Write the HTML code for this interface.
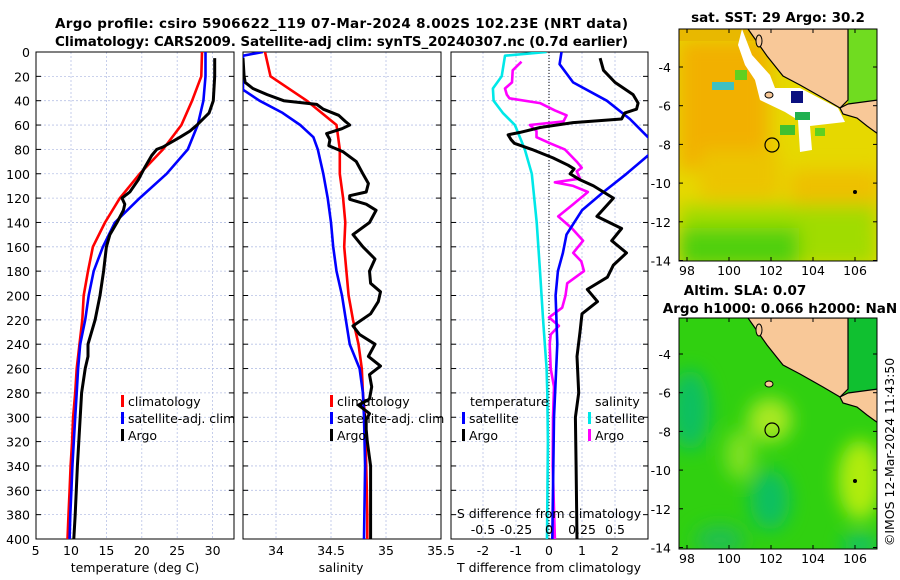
<!DOCTYPE html>
<html><head><meta charset="utf-8"><style>
html,body{margin:0;padding:0;background:#fff;}
svg{display:block;font-family:"DejaVu Sans","Liberation Sans",sans-serif;}
</style></head><body>
<svg id="fig" width="900" height="580" viewBox="0 0 900 580" xmlns="http://www.w3.org/2000/svg">
<defs>
<clipPath id="c1"><rect x="36" y="52" width="198" height="487"/></clipPath>
<clipPath id="c2"><rect x="243" y="52" width="198" height="487"/></clipPath>
<clipPath id="c3"><rect x="451" y="52" width="197" height="487"/></clipPath>
<clipPath id="m1"><rect x="679" y="29" width="198" height="232"/></clipPath>
<clipPath id="m2"><rect x="679" y="318" width="198" height="231"/></clipPath>
<filter id="blur" x="-20%" y="-20%" width="140%" height="140%"><feGaussianBlur stdDeviation="9"/></filter>
</defs>
<text x="55" y="28" font-size="13.5" font-weight="bold" textLength="573">Argo profile: csiro 5906622_119 07-Mar-2024 8.002S 102.23E (NRT data)</text>
<text x="55" y="46" font-size="13.5" font-weight="bold" textLength="573">Climatology: CARS2009. Satellite-adj clim: synTS_20240307.nc (0.7d earlier)</text>

<!-- SST map -->
<g>
<text x="778" y="22" font-size="13.5" font-weight="bold" text-anchor="middle">sat. SST: 29 Argo: 30.2</text>
<g clip-path="url(#m1)">
<rect x="679" y="29" width="198" height="232" fill="#e6d800"/>
<g filter="url(#blur)">
<rect x="679" y="40" width="90" height="130" fill="#f2b000"/>
<rect x="700" y="150" width="80" height="50" fill="#ecc400"/>
<rect x="790" y="170" width="90" height="60" fill="#eec000"/>
<rect x="679" y="205" width="198" height="60" fill="#a0dc00"/>
<rect x="679" y="228" width="120" height="40" fill="#50d010"/>
</g>
<rect x="679" y="29" width="198" height="12" fill="#e8b800"/>
<path d="M742,29 L752,55 L770,75 L775,88 L800,88 L838,108 L845,122 L810,126 L812,150 L800,152 L798,120 L785,112 L760,100 L755,80 L745,65 L738,45 Z" fill="#fff"/>
<rect x="712" y="82" width="22" height="8" fill="#40c0c0"/>
<rect x="735" y="70" width="12" height="10" fill="#60d020"/>
<rect x="780" y="125" width="15" height="10" fill="#40c030"/>
<rect x="795" y="112" width="15" height="8" fill="#20b050"/>
<rect x="815" y="128" width="10" height="8" fill="#60d020"/>
<rect x="791" y="91" width="12" height="12" fill="#0a1080"/>
<rect x="848" y="29" width="30" height="75" fill="#70dc20"/>
<path d="M748,29 L767,56 L783,76 L800,85 L823,98 L840,108 L848,100 L848,29 Z" fill="#f8c898" stroke="#000" stroke-width="1.2"/>
<path d="M840,108 L848,104 L878,100 L878,134 L867,126 L857,118 L843,114 Z" fill="#f8c898" stroke="#000" stroke-width="1.2"/>
<ellipse cx="759" cy="41" rx="3" ry="6" fill="#f8c898" stroke="#000"/>
<ellipse cx="769" cy="95" rx="4" ry="3" fill="#f8c898" stroke="#000"/>
<circle cx="855" cy="192" r="2" fill="#000"/>
<circle cx="772" cy="145" r="7" fill="none" stroke="#000" stroke-width="1.2"/>
</g>
<rect x="679" y="29" width="198" height="232" fill="none" stroke="#000"/>
</g>

<!-- SLA map -->
<g>
<text x="745" y="295" font-size="13.5" font-weight="bold" text-anchor="middle">Altim. SLA: 0.07</text>
<text x="780" y="313" font-size="13.5" font-weight="bold" text-anchor="middle">Argo h1000: 0.066 h2000: NaN</text>
<g clip-path="url(#m2)">
<rect x="679" y="318" width="198" height="231" fill="#30d010"/>
<g filter="url(#blur)">
<ellipse cx="690" cy="410" rx="20" ry="40" fill="#10c060"/>
<ellipse cx="770" cy="420" rx="22" ry="22" fill="#a8e820"/>
<ellipse cx="740" cy="455" rx="15" ry="25" fill="#80e020"/>
<ellipse cx="860" cy="480" rx="22" ry="40" fill="#b0ec10"/>
<ellipse cx="770" cy="500" rx="20" ry="30" fill="#10c060"/>
<ellipse cx="720" cy="540" rx="25" ry="15" fill="#20c050"/>
<ellipse cx="860" cy="545" rx="18" ry="10" fill="#10c070"/>
</g>
<rect x="848" y="318" width="30" height="75" fill="#10c030"/>
<path d="M748,318 L767,345 L783,365 L800,374 L823,387 L840,397 L848,389 L848,318 Z" fill="#f8c898" stroke="#000" stroke-width="1.2"/>
<path d="M840,397 L848,393 L878,389 L878,423 L867,415 L857,407 L843,403 Z" fill="#f8c898" stroke="#000" stroke-width="1.2"/>
<ellipse cx="759" cy="330" rx="3" ry="6" fill="#f8c898" stroke="#000"/>
<ellipse cx="769" cy="384" rx="4" ry="3" fill="#f8c898" stroke="#000"/>
<circle cx="855" cy="481" r="2" fill="#000"/>
<circle cx="772" cy="430" r="7" fill="none" stroke="#000" stroke-width="1.2"/>
</g>
<rect x="679" y="318" width="198" height="231" fill="none" stroke="#000"/>
</g>
<text font-size="12.5" text-anchor="middle" transform="translate(894,452) rotate(-90)">©IMOS 12-Mar-2024 11:43:50</text>
<g id="dyn"></g>
</svg>
<script>
// ---- data ----
const depthClim = [0,20,40,60,80,100,120,140,160,180,200,220,240,260,280,300,320,340,360,380,400];
const tempClim = [28.5,28.4,27.1,25.6,23,19.7,16.9,14.8,13.1,12.4,11.8,11.6,11.2,10.8,10.6,10.3,10.15,9.95,9.8,9.65,9.5];
const tempSat = [29.0,29.0,28.7,27.9,26.5,23.5,19.7,16.2,14.5,13.2,12.5,12.0,11.3,11.0,10.8,10.6,10.4,10.2,10.05,9.9,9.8];
const depthArgoT = [5,20,40,50,60,65,70,78,80,85,95,105,115,120,125,130,140,150,160,180,200,220,240,250,260,280,300,340,380,400];
const tempArgo = [30.3,30.3,30.1,29.5,27.8,26.8,25.4,23.0,22.1,21.4,20.4,19.5,18.3,17.2,17.6,17.4,16.5,15.5,15.0,14.6,14.1,13.4,12.4,12.4,12.0,11.5,11.3,10.9,10.6,10.4];
const salClim = [33.9,33.95,34.28,34.55,34.58,34.58,34.61,34.63,34.62,34.64,34.66,34.7,34.75,34.78,34.79,34.81,34.815,34.82,34.825,34.83,34.83];
const depthSalSat = [0,3,31,40,50,60,70,80,100,120,140,160,180,200,240,260,280,300,340,400];
const salSat = [33.88,33.7,33.7,33.85,34.06,34.22,34.34,34.38,34.43,34.47,34.5,34.52,34.55,34.6,34.67,34.76,34.79,34.8,34.81,34.8];
const depthArgoS = [5,20,25,30,35,40,43,47,52,57,60,63,67,72,77,82,90,100,108,115,118,121,125,130,140,150,160,170,180,190,197,205,215,225,232,240,250,258,265,275,285,290,297,302,310,320,340,360,400];
const salArgo = [33.7,33.71,33.72,33.79,33.92,34.07,34.37,34.43,34.57,34.63,34.67,34.6,34.46,34.49,34.48,34.61,34.73,34.79,34.84,34.82,34.67,34.67,34.82,34.91,34.85,34.7,34.79,34.9,34.85,34.86,34.95,34.93,34.86,34.7,34.76,34.9,34.84,34.95,34.85,34.87,34.85,34.75,34.85,34.82,34.82,34.83,34.86,34.86,34.86];
const depthDiffSSat = [0,3,20,30,40,50,60,80,100,140,180,220,260,280,320,400];
const diffSSat = [-0.018,-0.333,-0.358,-0.425,-0.42,-0.35,-0.258,-0.183,-0.13,-0.093,-0.068,-0.045,-0.018,-0.013,-0.008,-0.015];
const depthDiffSArgo = [8,15,25,30,35,38,42,48,52,57,60,65,70,75,80,90,95,98,104,107,110,115,125,135,145,155,165,172,180,190,200,210,218,225,232,240,260,275,300,340,400];
const diffSArgo = [-0.208,-0.275,-0.28,-0.333,-0.32,-0.3,-0.068,0.045,0.133,0.11,-0.145,-0.095,-0.095,0.008,0.12,0.21,0.248,0.21,0.235,0.045,0.183,0.295,0.183,0.07,0.175,0.258,0.183,0.245,0.265,0.138,0.125,0.1,0,0.075,0.013,0.005,0.013,0.038,0.03,0.028,0.045];
const depthDiffTSat = [0,10,25,40,55,70,77,85,100,115,130,150,165,180,200,240,300,400];
const diffTSat = [0.38,0.32,0.73,1.75,2.45,3.0,3.4,3.0,2.35,1.65,1.0,0.53,0.42,0.27,0.2,0.25,0.15,0.1];
const depthDiffTArgo = [5,15,25,35,42,47,50,55,58,62,66,68,72,75,80,87,93,96,100,105,110,120,135,145,155,165,175,185,195,205,215,230,250,280,300,340,400];
const diffTArgo = [1.55,1.65,2.0,2.55,2.7,2.65,2.3,2.2,0.73,-0.27,-0.88,-1.24,-1.15,-1.05,-0.52,0.12,0.58,0.76,0.64,0.94,1.35,1.95,1.45,2.2,1.9,2.35,1.95,1.77,1.16,1.47,1.0,0.94,0.85,0.9,0.8,0.82,0.85];
const depthTicks = [0,20,40,60,80,100,120,140,160,180,200,220,240,260,280,300,320,340,360,380,400];
const tempTicks = [5,10,15,20,25,30];
const salTicks = [34,34.5,35,35.5];
const diffTicks = [-2,-1,0,1,2];
const diffTickLabels = ["-2","-1","0","1","2"];
const sTickLabels = ["-0.5","-0.25","0","0.25","0.5"];
const latTicks = [-4,-6,-8,-10,-12,-14];
const lonTicks = [98,100,102,104,106];

// ---- axes ----
const yD = d => 52 + d*1.2175;
const xT = t => 35.6 + (t-5)*7.08;
const xS = s => 243 + (s-33.7)*110;
const xDf = v => 549 + v*33;
const NS = "http://www.w3.org/2000/svg";
const root = document.getElementById('dyn');
function mk(tag, attrs, parent){const e=document.createElementNS(NS,tag);for(const k in attrs)e.setAttribute(k,attrs[k]);(parent||root).appendChild(e);return e;}
function txt(s, attrs, parent){const e=mk('text',attrs,parent);e.textContent=s;return e;}
const FS = 12.5;

function panel(name, x0, w, xticks, xfn, clip){
  const g = mk('g',{});
  
  
  depthTicks.forEach(d=>{ if(d>0&&d<400) mk('line',{x1:x0,x2:x0+w,y1:yD(d),y2:yD(d),stroke:'#b8c2e6','stroke-width':0.8,'stroke-dasharray':'2,2'},g);});
  xticks.forEach(t=>{const x=xfn(t); if(x>x0+1&&x<x0+w-1) mk('line',{x1:x,x2:x,y1:52,y2:539,stroke:'#b8c2e6','stroke-width':0.8,'stroke-dasharray':'2,2'},g);});
  depthTicks.forEach(d=>{mk('line',{x1:x0,x2:x0+5,y1:yD(d),y2:yD(d),stroke:'#000'},g);mk('line',{x1:x0+w-5,x2:x0+w,y1:yD(d),y2:yD(d),stroke:'#000'},g);});
  const gl = mk('g',{'clip-path':'url(#'+clip+')'});
  
  
  mk('rect',{x:x0,y:52,width:w,height:487,fill:'none',stroke:'#000','stroke-width':1},g);
  return gl;
}
function line(g, ds, vs, fx, color, name, w){
  const pts = ds.map((d,i)=>fx(vs[i]).toFixed(1)+','+yD(d).toFixed(1)).join(' ');
  const p = mk('polyline',{points:pts,fill:'none',stroke:color,'stroke-width':w||2.6,'stroke-linejoin':'round'},g);
  
  
}
function legend(x, y, color, label, name){
  const r = mk('rect',{x:x,y:y-11,width:3,height:12,fill:color});
  
  
  const t = txt(label,{x:x+7,y:y,'font-size':FS});
  
  
}

depthTicks.forEach(d=>{const t=txt(String(d),{x:30,y:yD(d)+5,'font-size':FS,'text-anchor':'end'});
  
  });

// Panel 1
const g1 = panel('temperature-panel',36,198,tempTicks,xT,'c1');
line(g1, depthClim, tempClim, xT, '#ff0000', 'temp-climatology-line');
line(g1, depthClim, tempSat, xT, '#0000ff', 'temp-satellite-line');
line(g1, depthArgoT, tempArgo, xT, '#000000', 'temp-argo-line', 3);
tempTicks.forEach(t=>{const e=txt(String(t),{x:xT(t),y:555,'font-size':FS,'text-anchor':'middle'});
  
  });
let e1 = txt('temperature (deg C)',{x:135,y:572,'font-size':FS,'text-anchor':'middle'});


legend(121,406,'#ff0000','climatology','legend-climatology');
legend(121,423,'#0000ff','satellite-adj. clim','legend-satellite-adj');
legend(121,440,'#000000','Argo','legend-argo');

// Panel 2
const g2 = panel('salinity-panel',243,198,salTicks,xS,'c2');
line(g2, depthClim, salClim, xS, '#ff0000', 'sal-climatology-line');
line(g2, depthSalSat, salSat, xS, '#0000ff', 'sal-satellite-line');
line(g2, depthArgoS, salArgo, xS, '#000000', 'sal-argo-line', 3);
salTicks.forEach(t=>{const e=txt(String(t),{x:xS(t),y:555,'font-size':FS,'text-anchor':'middle'});
  
  });
let e2 = txt('salinity',{x:341,y:572,'font-size':FS,'text-anchor':'middle'});


legend(330,406,'#ff0000','climatology','legend-climatology-2');
legend(330,423,'#0000ff','satellite-adj. clim','legend-satellite-adj-2');
legend(330,440,'#000000','Argo','legend-argo-2');

// Panel 3
const g3 = panel('difference-panel',451,197,diffTicks,xDf,'c3');
let zl = mk('line',{x1:549,x2:549,y1:52,y2:539,stroke:'#000','stroke-width':1,'stroke-dasharray':'1,2'},g3);


line(g3, depthDiffSSat, diffSSat.map(v=>v*4), x=>xDf(x), '#00e8e8', 's-diff-satellite-line');
line(g3, depthDiffSArgo, diffSArgo.map(v=>v*4), x=>xDf(x), '#ff00ff', 's-diff-argo-line');
line(g3, depthDiffTSat, diffTSat, xDf, '#0000ff', 't-diff-satellite-line');
line(g3, depthDiffTArgo, diffTArgo, xDf, '#000000', 't-diff-argo-line', 3);
diffTicks.forEach((t,i)=>{const e=txt(diffTickLabels[i],{x:xDf(t),y:555,'font-size':FS,'text-anchor':'middle'});
  
  });
diffTicks.forEach((t,i)=>{const e=txt(sTickLabels[i],{x:xDf(t),y:534,'font-size':FS,'text-anchor':'middle'});
  
  });
let e3 = txt('S difference from climatology',{x:549,y:518,'font-size':FS,'text-anchor':'middle'});


let e4 = txt('T difference from climatology',{x:549,y:572,'font-size':FS,'text-anchor':'middle'});


let e5 = txt('temperature',{x:470,y:406,'font-size':FS});


let e6 = txt('salinity',{x:595,y:406,'font-size':FS});


legend(462,423,'#0000ff','satellite','legend-t-satellite');
legend(462,440,'#000000','Argo','legend-t-argo');
legend(588,423,'#00e8e8','satellite','legend-s-satellite');
legend(588,440,'#ff00ff','Argo','legend-s-argo');

function mapAxes(top, bottom, latY0, name){
  latTicks.forEach(l=>{const y=latY0+(-4-l)*19.35;
    mk('line',{x1:679,x2:683,y1:y,y2:y,stroke:'#000'});mk('line',{x1:873,x2:877,y1:y,y2:y,stroke:'#000'});
    const t=txt(String(l),{x:671,y:y+5,'font-size':FS,'text-anchor':'end'});
    
    });
  lonTicks.forEach(l=>{const x=687+(l-98)*21;
    mk('line',{x1:x,x2:x,y1:bottom-4,y2:bottom,stroke:'#000'});mk('line',{x1:x,x2:x,y1:top,y2:top+4,stroke:'#000'});
    const t=txt(String(l),{x:x,y:bottom+14,'font-size':FS,'text-anchor':'middle'});
    
    });
}
mapAxes(29,261,67,'sst-map');
mapAxes(318,549,354,'sla-map');
</script>
</body></html>
